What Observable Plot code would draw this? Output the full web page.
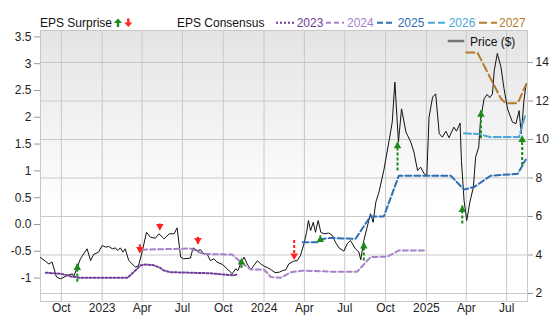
<!DOCTYPE html>
<html><head><meta charset="utf-8">
<script src="https://cdn.jsdelivr.net/npm/d3@7"></script>
<script src="https://cdn.jsdelivr.net/npm/@observablehq/plot@0.6"></script>
<style>
body{margin:0;background:#fff;}
#wrap{position:relative;width:556px;height:315px;font-family:"Liberation Sans",Arial,sans-serif;}
#wrap svg{position:absolute;left:0;top:0;}
</style></head><body><div id="wrap"></div>
<script>
// ---- Price ($) ----
const priceDates = ["2022-08-15","2022-08-27","2022-09-03","2022-09-10","2022-09-20","2022-09-29","2022-10-07","2022-10-14","2022-10-26","2022-10-29","2022-11-06","2022-11-13","2022-11-28","2022-12-06","2022-12-13","2022-12-24",
"2023-01-01","2023-01-09","2023-01-16","2023-01-24","2023-01-31","2023-02-05","2023-02-11","2023-02-17","2023-02-22","2023-03-02","2023-03-17","2023-03-24","2023-04-01","2023-04-11","2023-04-20","2023-05-01","2023-05-09","2023-05-21","2023-06-01","2023-06-12","2023-06-19","2023-06-27","2023-07-04","2023-07-19","2023-07-25","2023-08-03","2023-08-11","2023-08-18","2023-08-26","2023-09-02","2023-09-10","2023-09-17","2023-09-29","2023-10-10","2023-10-21","2023-10-29","2023-11-03","2023-11-09","2023-11-17","2023-11-24","2023-12-02","2023-12-09","2023-12-17","2023-12-24",
"2024-01-01","2024-01-08","2024-01-16","2024-01-26","2024-02-05","2024-02-12","2024-02-19","2024-02-26","2024-03-08","2024-03-16","2024-03-23","2024-03-31","2024-04-06","2024-04-10","2024-04-15","2024-04-21","2024-04-26","2024-05-02","2024-05-08","2024-05-15","2024-05-26","2024-06-03","2024-06-10","2024-06-18","2024-06-29","2024-07-07","2024-07-14","2024-07-25","2024-08-02","2024-08-06","2024-08-13","2024-08-28","2024-09-03","2024-09-09","2024-09-16","2024-09-27","2024-10-09","2024-10-16","2024-10-22","2024-10-30","2024-11-06","2024-11-16","2024-11-27","2024-12-04","2024-12-12","2024-12-19","2024-12-27",
"2025-01-02","2025-01-07","2025-01-15","2025-01-22","2025-01-30","2025-02-06","2025-02-14","2025-02-21","2025-03-04","2025-03-10","2025-03-18","2025-03-21","2025-03-27","2025-04-02","2025-04-09","2025-04-17","2025-04-22","2025-04-29","2025-05-03","2025-05-11","2025-05-18","2025-05-24","2025-05-30","2025-06-03","2025-06-10","2025-06-18","2025-06-25","2025-07-03","2025-07-14","2025-07-22","2025-07-29","2025-08-03","2025-08-09","2025-08-14"];
const priceValues = [3.87,3.66,3.53,3.64,2.86,2.76,2.85,2.94,3.02,2.88,3.37,3.8,4.32,3.71,4.03,4.15,
4.49,4.41,4.44,4.32,4.37,4.23,4.37,4.15,4.32,3.71,3.37,3.45,4.15,5.18,4.92,4.87,5.1,4.84,5.1,5.1,5.41,3.89,3.8,3.84,4.37,4.23,4.27,4.06,4.03,3.71,3.8,3.63,3.51,3.28,3.02,3.28,3.19,3.54,3.89,3.54,3.23,3.45,3.7,3.55,
3.42,3.35,3.25,3.08,3.11,3.19,3.23,3.54,3.68,3.71,3.97,4.58,5.18,5.79,5.27,5.7,5.18,5.79,5.18,5.1,5.14,5.01,4.66,4.37,4.2,4.6,4.75,4.32,4.15,3.75,4.75,6.14,5.7,6.74,7.26,8.39,9.95,10.9,12.98,9.86,11.59,10.38,9.86,9.34,8.39,8.56,8.22,
8.13,11.16,12.2,12.37,10.3,10.12,10.43,10.09,10.64,10.43,10.85,8.91,6.83,5.79,6.74,7.52,9.08,9.6,10.99,12.11,12.34,12.17,12.37,13.58,14.47,13.78,12.65,11.59,10.9,10.82,11.5,10.3,12.03,12.9];

// ---- EPS Consensus ----
const eps2023Dates = ["2022-08-27","2022-10-01","2022-10-22","2022-11-13","2023-02-27","2023-03-13","2023-03-28","2023-04-09","2023-04-27","2023-05-12","2023-05-20","2023-06-04","2023-09-02","2023-10-24","2023-11-02"];
const eps2023 = [-0.90,-0.92,-0.97,-0.995,-0.995,-0.89,-0.765,-0.746,-0.76,-0.81,-0.86,-0.89,-0.91,-0.95,-0.93];
const eps2024Dates = ["2023-04-01","2023-07-12","2023-07-19","2023-08-18","2023-10-21","2023-11-17","2023-12-02","2024-01-01","2024-01-16","2024-02-07","2024-03-02","2024-03-31","2024-05-30","2024-07-29","2024-08-28","2024-10-05","2024-10-31","2024-12-31"];
const eps2024 = [-0.47,-0.45,-0.45,-0.55,-0.56,-0.75,-0.84,-0.84,-0.98,-0.995,-0.89,-0.86,-0.88,-0.88,-0.61,-0.60,-0.485,-0.485];
const eps2025Dates = ["2024-03-28","2024-04-30","2024-05-12","2024-05-30","2024-07-25","2024-08-28","2024-09-27","2024-10-31","2025-02-25","2025-03-27","2025-04-19","2025-05-26","2025-07-26","2025-08-13"];
const eps2025 = [-0.33,-0.33,-0.27,-0.25,-0.27,0.15,0.15,0.91,0.91,0.65,0.70,0.91,0.945,1.21];
const eps2026Dates = ["2025-03-27","2025-04-26","2025-05-26","2025-07-29","2025-08-13"];
const eps2026 = [1.70,1.69,1.63,1.63,2.07];
const eps2027Dates = ["2025-04-01","2025-04-26","2025-05-26","2025-06-18","2025-06-29","2025-07-26","2025-08-13"];
const eps2027 = [3.21,3.21,2.72,2.35,2.26,2.26,2.6];

// ---- EPS Surprise ----
const surpriseDates = ["2022-11-06","2023-03-27","2023-05-11","2023-08-05","2023-11-11","2024-03-09","2024-05-07","2024-08-13","2024-10-28","2025-03-23","2025-05-04","2025-08-05"];
const surpriseFrom = [-1.08,-0.38,0.01,-0.24,-0.82,-0.30,-0.33,-0.68,1.00,0.01,1.60,1.10];
const surpriseTo   = [-0.73,-0.54,-0.11,-0.37,-0.63,-0.66,-0.21,-0.33,1.54,0.35,2.13,1.66];

// ---- ticks ----
const epsTicks = [-1,-0.5,0,0.5,1,1.5,2,2.5,3,3.5];
const epsTickLabels = ["-1","-0.5","0.0","0.5","1","1.5","2","2.5","3","3.5"];
const priceTicks = [2,4,6,8,10,12,14];
const monthNames = ["Jan","Feb","Mar","Apr","May","Jun","Jul","Aug","Sep","Oct","Nov","Dec"];

const seriesNames = ["2023","2024","2025","2026","2027"];
const seriesColors = ["#6f3d97","#a882c8","#2f6db5","#4aa7d8","#b47b2c"];
const seriesDash = ["2,2","5,3","6,3","7,3","8,4"];

const W = 556, H = 315;
const M = {marginTop: 30, marginRight: 29, marginBottom: 14, marginLeft: 40};
const xDomain = [new Date("2022-08-15"), new Date("2025-08-17")];
const xTicks = d3.utcMonth.every(3).range(new Date("2022-09-01"), xDomain[1]);
const xFmt = d => d.getUTCMonth() === 0 ? String(d.getUTCFullYear()) : monthNames[d.getUTCMonth()];
const font = "Liberation Sans, Arial, sans-serif";

const price = priceDates.map((d, i) => ({date: new Date(d), value: priceValues[i]}));
const mk = (ds, vs) => ds.map((d, i) => ({date: new Date(d), value: vs[i]}));
const consensus = [mk(eps2023Dates, eps2023), mk(eps2024Dates, eps2024), mk(eps2025Dates, eps2025), mk(eps2026Dates, eps2026), mk(eps2027Dates, eps2027)];
const surprises = surpriseDates.map((d, i) => ({date: new Date(d), from: surpriseFrom[i], to: surpriseTo[i], up: surpriseTo[i] > surpriseFrom[i]}));

const wrap = document.getElementById("wrap");

const pricePlot = Plot.plot({
  width: W, height: H, ...M,
  style: {background: "transparent", fontFamily: font, fontSize: "12px", color: "#222"},
  x: {type: "utc", domain: xDomain},
  y: {domain: [1.584, 15.66]},
  marks: [
    Plot.frame({fill: "url(#bgGrad)", stroke: null}),
    Plot.gridX(xTicks, {stroke: "#c8c8c8", strokeOpacity: 1}),
    Plot.gridY(priceTicks, {stroke: "#c8c8c8", strokeOpacity: 1}),
    Plot.frame({stroke: "#c8c8c8"}),
    Plot.axisX(xTicks, {tickSize: 0, tickPadding: 2, tickFormat: xFmt, fontSize: 12, fill: "#222", label: null}),
    Plot.axisY(priceTicks, {anchor: "right", tickSize: 5, tickPadding: 3, stroke: "#999", fill: "#222", fontSize: 12, label: null}),
    Plot.line(price, {x: "date", y: "value", stroke: "#111", strokeWidth: 1})
  ]
});
const defs = d3.select(pricePlot).insert("defs", ":first-child");
const grad = defs.append("linearGradient").attr("id", "bgGrad").attr("x1", 0).attr("y1", 0).attr("x2", 0).attr("y2", 1);
grad.append("stop").attr("offset", "0%").attr("stop-color", "#e4e4e4");
grad.append("stop").attr("offset", "65%").attr("stop-color", "#ffffff");
wrap.appendChild(pricePlot);

const epsMarks = [
  Plot.axisY(epsTicks, {anchor: "left", tickSize: 6, tickPadding: 3, stroke: "#999", fill: "#222", fontSize: 12, label: null,
    tickFormat: v => epsTickLabels[epsTicks.indexOf(v)]})
];
consensus.forEach((data, i) => {
  epsMarks.push(Plot.line(data, {x: "date", y: "value", stroke: seriesColors[i], strokeWidth: 2, strokeDasharray: seriesDash[i]}));
});
epsMarks.push(
  Plot.ruleX(surprises, {x: "date", y1: "from", y2: "to", stroke: d => d.up ? "#1b8a1b" : "#ff2020", strokeWidth: 2, strokeDasharray: "3,2"}),
  Plot.dot(surprises.filter(d => d.up), {x: "date", y: "to", symbol: "triangle", r: 2.8, dy: 4.2, fill: "#1b8a1b", stroke: null}),
  Plot.dot(surprises.filter(d => !d.up), {x: "date", y: "to", symbol: "triangle", r: 2.8, dy: -4.2, rotate: 180, fill: "#ff2020", stroke: null})
);
const epsPlot = Plot.plot({
  width: W, height: H, ...M,
  style: {background: "transparent", fontFamily: font, fontSize: "12px", color: "#222"},
  x: {type: "utc", domain: xDomain, axis: null},
  y: {domain: [-1.437, 3.619]},
  color: {type: "identity"},
  marks: epsMarks
});
wrap.appendChild(epsPlot);

// ---- legends ----
const leg = d3.select(wrap).append("svg").attr("width", W).attr("height", H)
  .style("font-family", font).style("font-size", "12px").style("pointer-events", "none");
leg.append("text").attr("x", 40).attr("y", 27).attr("fill", "#111").text("EPS Surprise");
function arrowIcon(cx, up, color) {
  const g = leg.append("g").attr("fill", color);
  if (up) {
    g.append("path").attr("d", `M${cx-4},${23} L${cx},${18.5} L${cx+4},${23} Z`);
    g.append("rect").attr("x", cx-1.2).attr("y", 22.5).attr("width", 2.4).attr("height", 4.5);
  } else {
    g.append("rect").attr("x", cx-1.2).attr("y", 18.5).attr("width", 2.4).attr("height", 4.5);
    g.append("path").attr("d", `M${cx-4},${22.5} L${cx},${27} L${cx+4},${22.5} Z`);
  }
}
arrowIcon(118, true, "#1b8a1b");
arrowIcon(128.3, false, "#ff2020");
leg.append("text").attr("x", 177).attr("y", 27).attr("fill", "#111").text("EPS Consensus");
const sampleX = [276, 326, 377, 428, 479];
const labelX = [296.7, 347, 397.7, 448.7, 499];
seriesNames.forEach((n, i) => {
  leg.append("line").attr("x1", sampleX[i]).attr("x2", sampleX[i] + 18).attr("y1", 22.7).attr("y2", 22.7)
    .attr("stroke", seriesColors[i]).attr("stroke-width", 2).attr("stroke-dasharray", seriesDash[i]);
  leg.append("text").attr("x", labelX[i]).attr("y", 27).attr("fill", seriesColors[i]).text(n);
});
leg.append("line").attr("x1", 447.7).attr("x2", 464.3).attr("y1", 41).attr("y2", 41).attr("stroke", "#777").attr("stroke-width", 2.5);
leg.append("text").attr("x", 470).attr("y", 45.5).attr("fill", "#111").text("Price ($)");
</script></body></html>
